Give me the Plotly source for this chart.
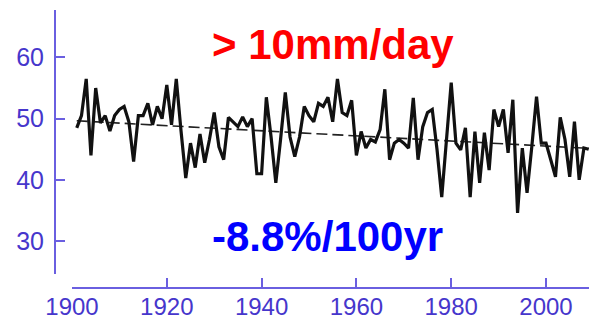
import plotly.graph_objects as go

# Annual count of heavy-precipitation days (> 10 mm/day), 1901-2009
years = list(range(1901, 2010))
values = [
    48.5, 50.5, 56.5, 44.0, 55.0, 49.3, 50.5, 48.0, 50.5, 51.5,   # 1901-1910
    52.0, 49.5, 43.0, 50.5, 50.5, 52.5, 49.0, 52.0, 50.0, 55.5,   # 1911-1920
    49.0, 56.5, 48.0, 40.3, 46.0, 42.0, 47.5, 42.8, 46.6, 51.0,   # 1921-1930
    45.4, 43.3, 50.2, 49.5, 48.7, 50.3, 48.7, 50.0, 41.0, 41.0,   # 1931-1940
    53.5, 47.0, 39.5, 46.6, 54.3, 47.0, 43.8, 47.0, 52.0, 50.5,   # 1941-1950
    49.5, 52.5, 52.0, 53.5, 49.5, 56.5, 51.0, 50.5, 53.0, 44.0,   # 1951-1960
    47.9, 45.2, 46.6, 46.2, 48.2, 54.8, 43.3, 46.0, 46.6, 46.0,   # 1961-1970
    45.2, 53.4, 43.3, 48.7, 51.0, 51.5, 45.0, 37.2, 47.0, 55.9,   # 1971-1980
    46.0, 44.9, 48.5, 37.2, 47.9, 39.5, 47.7, 41.6, 51.5, 48.7,   # 1981-1990
    51.5, 44.4, 53.1, 34.6, 45.2, 37.9, 45.4, 53.6, 46.0, 46.0,   # 1991-2000
    43.3, 40.5, 50.2, 46.6, 40.5, 49.5, 40.0, 45.2, 45.0,         # 2001-2009
]

# Linear trend stated as a percentage change per century of the series mean
trend_rate_pct = -8.8
trend_center_year = 1955
trend_center_value = 47.4
trend_years = [years[0], years[-1]]
trend_values = [
    trend_center_value * (1 + trend_rate_pct / 100 * (y - trend_center_year) / 100)
    for y in trend_years
]

x_ticks = [1900, 1920, 1940, 1960, 1980, 2000]
y_ticks = [30, 40, 50, 60]

title_text = "> 10mm/day"
trend_text = f"{trend_rate_pct}%/100yr"

W, H = 589, 322
M_L, M_R, M_T, M_B = 55, 0, 10, 34
PW, PH = W - M_L - M_R, H - M_T - M_B


def px_x(px):
    return (px - M_L) / PW


def px_y(py):
    return (H - M_B - py) / PH


axis_col = "#6a5fe0"
label_col = "#4636cc"
font_fam = "Arial, Liberation Sans, Helvetica, sans-serif"

fig = go.Figure()
fig.add_trace(go.Scatter(
    x=trend_years, y=trend_values, mode="lines",
    line=dict(color="#222222", width=1.6, dash="11px,5px"),
    hoverinfo="skip", showlegend=False,
))
fig.add_trace(go.Scatter(
    x=years, y=values, mode="lines",
    line=dict(color="#111111", width=3.2),
    showlegend=False,
))

fig.update_layout(
    width=W, height=H,
    margin=dict(l=M_L, r=M_R, t=M_T, b=M_B, pad=0),
    paper_bgcolor="white", plot_bgcolor="white",
    font=dict(family=font_fam),
    xaxis=dict(
        domain=[px_x(72), 1], anchor="free", position=0,
        range=[1900, 2009.07], tickvals=x_ticks,
        showgrid=False, zeroline=False,
        showline=True, linecolor=axis_col, linewidth=2,
        ticks="inside", ticklen=9, tickwidth=1.5, tickcolor=axis_col,
        tickfont=dict(size=24, color=label_col, family=font_fam),
        ticklabelstandoff=-3,
        automargin=False,
    ),
    yaxis=dict(
        domain=[px_y(274), 1], anchor="free", position=0,
        range=[24.62, 67.76], tickvals=y_ticks,
        showgrid=False, zeroline=False,
        showline=True, linecolor=axis_col, linewidth=2,
        ticks="inside", ticklen=9, tickwidth=1.5, tickcolor=axis_col,
        tickfont=dict(size=25, color=label_col, family=font_fam),
        ticklabelstandoff=5,
        automargin=False,
    ),
    annotations=[
        dict(text=f"<b>{title_text}</b>", xref="paper", yref="paper",
             x=px_x(333), y=px_y(44), xanchor="center", yanchor="middle",
             showarrow=False, font=dict(size=42, color="#ff0000", family=font_fam)),
        dict(text=f"<b>{trend_text}</b>", xref="paper", yref="paper",
             x=px_x(327), y=px_y(236), xanchor="center", yanchor="middle",
             showarrow=False, font=dict(size=42, color="#0000ff", family=font_fam)),
    ],
)

fig.write_html("out.html")
